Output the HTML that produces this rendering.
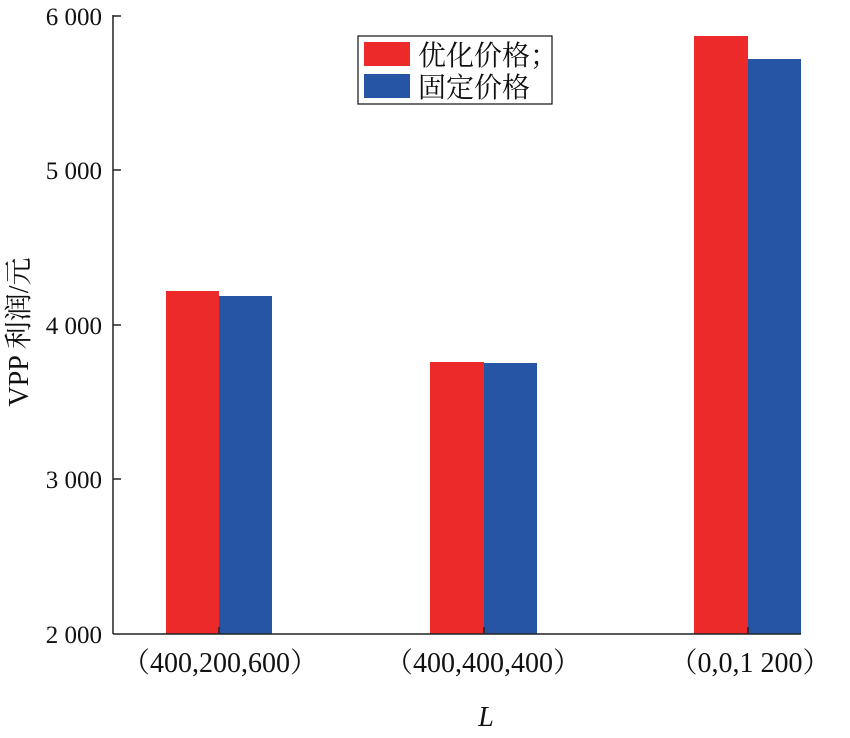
<!DOCTYPE html>
<html><head><meta charset="utf-8"><style>
body{margin:0;background:#fff}
svg text{font-family:"Liberation Serif","Noto Serif CJK SC",serif;fill:#111}
</style></head><body>
<svg width="850" height="733" viewBox="0 0 850 733" xmlns="http://www.w3.org/2000/svg">
<g>
<rect x="166" y="291" width="53" height="343" fill="#ec2a2a"/>
<rect x="219" y="296" width="53" height="338" fill="#2655a6"/>
<rect x="430" y="362" width="54" height="272" fill="#ec2a2a"/>
<rect x="484" y="363" width="53" height="271" fill="#2655a6"/>
<rect x="694" y="36" width="54" height="598" fill="#ec2a2a"/>
<rect x="748" y="59" width="53" height="575" fill="#2655a6"/>
</g>
<g stroke="#222" stroke-width="1.5" fill="none">
<line x1="113" y1="15" x2="113" y2="634"/>
<line x1="113" y1="634" x2="801" y2="634"/>
<line x1="113" y1="16" x2="121" y2="16"/>
<line x1="113" y1="170" x2="121" y2="170"/>
<line x1="113" y1="325" x2="121" y2="325"/>
<line x1="113" y1="479" x2="121" y2="479"/>
<line x1="219" y1="634" x2="219" y2="627"/>
<line x1="484" y1="634" x2="484" y2="627"/>
<line x1="748" y1="634" x2="748" y2="627"/>
</g>
<g font-size="25" text-anchor="end">
<text x="102" y="25">6 000</text>
<text x="102" y="179">5 000</text>
<text x="102" y="334">4 000</text>
<text x="102" y="488">3 000</text>
<text x="102" y="643">2 000</text>
</g>
<g font-size="28" text-anchor="middle">
<text x="220" y="672">（400,200,600）</text>
<text x="483" y="672">（400,400,400）</text>
<text x="750" y="672">（0,0,1 200）</text>
<text x="486" y="726" font-style="italic">L</text>
</g>
<text transform="translate(28,332) rotate(-90)" font-size="28" text-anchor="middle">VPP 利润/元</text>
<rect x="358" y="36" width="194" height="68" fill="#fff" stroke="#111" stroke-width="1.2"/>
<rect x="364" y="42" width="46" height="24" fill="#ec2a2a"/>
<rect x="364" y="74" width="46" height="24" fill="#2655a6"/>
<text x="418" y="65" font-size="28">优化价格；</text>
<text x="418" y="97" font-size="28">固定价格</text>
</svg>
</body></html>
